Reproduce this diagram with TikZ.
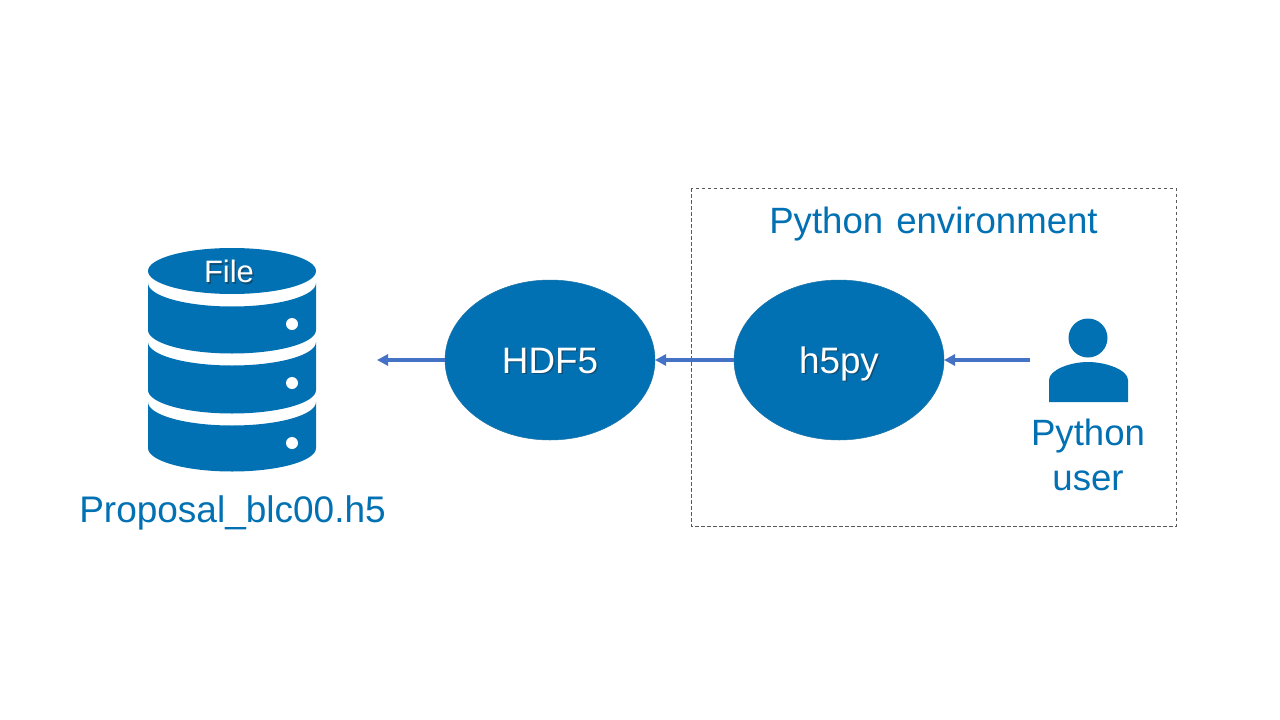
\documentclass[tikz,border=0pt]{standalone}
\usepackage{fontspec}
\setmainfont{Liberation Sans}
\usetikzlibrary{arrows.meta,shapes.geometric}
\definecolor{H5Blue}{HTML}{0271B3}
\definecolor{H5Arrow}{HTML}{4472C4}
\definecolor{H5Dash}{HTML}{595959}
\definecolor{H5Shadow}{HTML}{0F4F75}
\newcommand{\softshadow}[1]{\rlap{\kern1.5pt\raisebox{-1.5pt}{\textcolor{H5Shadow}{#1}}}#1}
\tikzset{
  flow/.style={-{Triangle[length=11pt,width=11pt]},H5Arrow,line width=4pt},
  envbox/.style={draw=H5Dash,line width=0.8pt,dash pattern=on 3.5pt off 2.5pt},
  bubble/.style={ellipse,fill=H5Blue,draw=H5Blue!80!gray,line width=0.5pt,inner sep=0pt,outer sep=0pt,
                 minimum width=210pt,minimum height=160pt,text=white,
                 font=\fontsize{36.8}{40}\selectfont,text height=26pt,text depth=0pt},
  dbtop/.style={ellipse,fill=H5Blue,inner sep=0pt,outer sep=0pt,minimum width=168pt,minimum height=46pt,
                text=white,font=\fontsize{31}{36}\selectfont,text height=23pt,text depth=0pt},
  dbband/.style={fill=H5Blue},
  dbdot/.style={fill=white},
  usershape/.style={fill=H5Blue},
  bluelabel/.style={text=H5Blue,font=\fontsize{36.6}{45}\selectfont,align=center,inner sep=0pt},
}
\begin{document}
\begin{tikzpicture}[x=1pt,y=-1pt]
    \useasboundingbox (0,0) rectangle (1280,720);
    \fill[white] (0,0) rectangle (1280,720);

    % file store
    \foreach \ytop/\ybody in {283/47,342/48,402/46}{
      \fill[dbband] (148,\ytop) arc[start angle=180,end angle=0,x radius=84,y radius=23.5]
        -- ++(0,\ybody) arc[start angle=0,end angle=180,x radius=84,y radius=23.5] -- cycle;
    }
    \foreach \ydot in {324,383,443}{
      \fill[dbdot] (292,\ydot) circle[radius=6];
    }
    \node[dbtop] (file) at (232,271) {\hspace*{-6pt}\softshadow{File}};
    \node[bluelabel,anchor=base,font=\fontsize{37}{45}\selectfont] (fname) at (232.5,522) {Proposal\_blc00.h5};

    % environment
    \draw[envbox] (691,188) rectangle (1176,526);
    \node[bluelabel,anchor=base] (envname) at (933.5,233) {Python\hspace{13pt}environment};

    \node[bubble] (hdf) at (550,360) {\softshadow{HDF5}};
    \node[bubble] (hpy) at (839,360) {\softshadow{h5py}};

    % user
    \fill[usershape] (1088,338) circle[radius=19.5];
    \fill[usershape] (1049,402) -- (1049,380) .. controls (1049,370) and (1070,362) .. (1088,362)
      .. controls (1106,362) and (1128,370) .. (1128,380) -- (1128,402) -- cycle;
    \node[bluelabel] (user) at (1088,455) {Python\\user};

    \coordinate (userout) at (1030,360);
    \coordinate (fileend) at (377,360);
    \draw[flow] (userout)--(hpy);
    \draw[flow] (hpy)--(hdf);
    \draw[flow] (hdf)--(fileend);
  \end{tikzpicture}
\end{document}
